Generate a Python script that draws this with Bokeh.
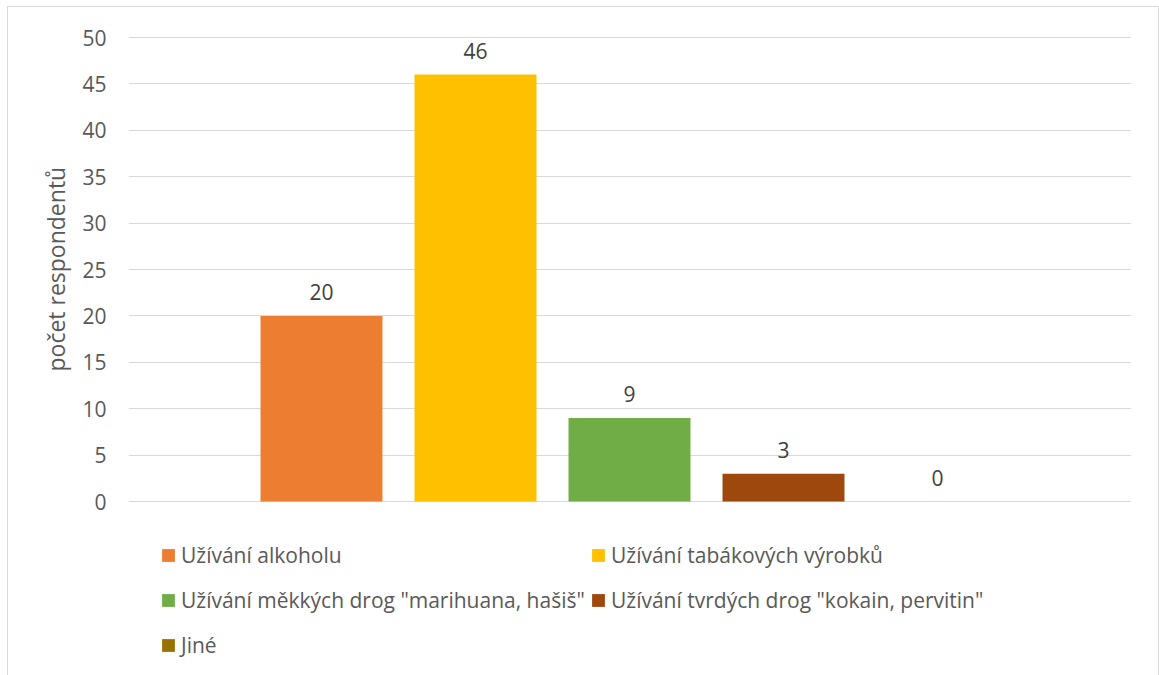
from bokeh.plotting import figure
from bokeh.models import ColumnDataSource, Range1d, FixedTicker, Legend, LegendItem, Title
from bokeh.core.properties import value
from bokeh.embed import file_html
from bokeh.resources import INLINE

# ---- data ----
series = [
    "Užívání alkoholu",
    "Užívání tabákových výrobků",
    'Užívání měkkých drog "marihuana, hašiš"',
    'Užívání tvrdých drog "kokain, pervitin"',
    "Jiné",
]
values = [20, 46, 9, 3, 0]
colors = ["#ED7D31", "#FFC000", "#70AD47", "#9E480E", "#997300"]
y_ticks = [0, 5, 10, 15, 20, 25, 30, 35, 40, 45, 50]
y_title = "počet respondentů"

FONT = "Open Sans"
TXT = "#595959"
GRID = "#d9d9d9"

src = ColumnDataSource(dict(
    x=list(range(len(series))),
    value=values,
    color=colors,
    label=[str(v) for v in values],
    name=series,
))

# frame spans the plot area and the legend area below it
p = figure(
    width=1159, height=675,
    x_range=Range1d(-1.2532, 5.2597),
    y_range=Range1d(-18.75, 50.108),
    output_backend="svg", toolbar_location=None,
    x_axis_location=None,
    min_border_left=128, min_border_right=28,
    min_border_top=36, min_border_bottom=0,
)
p.outline_line_color = None
p.background_fill_color = "white"
p.border_fill_alpha = 0
line = f"linear-gradient({GRID},{GRID})"
p.styles = {
    "background": f"{line} 7px 6px / 1px 100% no-repeat, "
                  f"{line} 7px 6px / 100% 1px no-repeat, "
                  f"{line} 1158px 6px / 1px 100% no-repeat, white",
}

p.xgrid.visible = False
p.ygrid.grid_line_color = GRID
p.ygrid.grid_line_width = 1
p.ygrid.ticker = FixedTicker(ticks=y_ticks)

ax = p.yaxis[0]
ax.ticker = FixedTicker(ticks=y_ticks)
ax.axis_line_color = None
ax.major_tick_line_color = None
ax.minor_tick_line_color = None
ax.major_tick_out = 0
ax.major_tick_in = 0
ax.major_label_standoff = 22
ax.major_label_text_font = FONT
ax.major_label_text_font_size = "21px"
ax.major_label_text_color = TXT

ytitle = Title(text=y_title, align="left", offset=304, standoff=16,
               text_font=FONT, text_font_size="23px", text_font_style="normal",
               text_color=TXT)
p.add_layout(ytitle, "left")

bars = p.vbar(x="x", top="value", width=0.792, bottom=0, source=src,
              fill_color="color", line_color=None)

p.text(x="x", y="value", text="label", source=src,
       text_font=value(FONT), text_font_size="21px", text_color="#404040",
       text_align="center", text_baseline="middle", y_offset=-24)

def make_legend(idx, loc):
    lg = Legend(
        items=[LegendItem(label=series[i], renderers=[bars], index=i) for i in idx],
        location=loc,
        orientation="vertical",
        label_text_font=FONT, label_text_font_size="21px", label_text_color=TXT,
        glyph_width=16, glyph_height=16, label_height=30, label_standoff=5,
        spacing=15, padding=0, margin=0,
        border_line_color=None, background_fill_alpha=0,
    )
    p.add_layout(lg, "center")
    return lg

make_legend([0, 2, 4], (32, 15))
make_legend([1, 3], (462, 60))

open("out.html", "w").write(file_html(p, INLINE))
